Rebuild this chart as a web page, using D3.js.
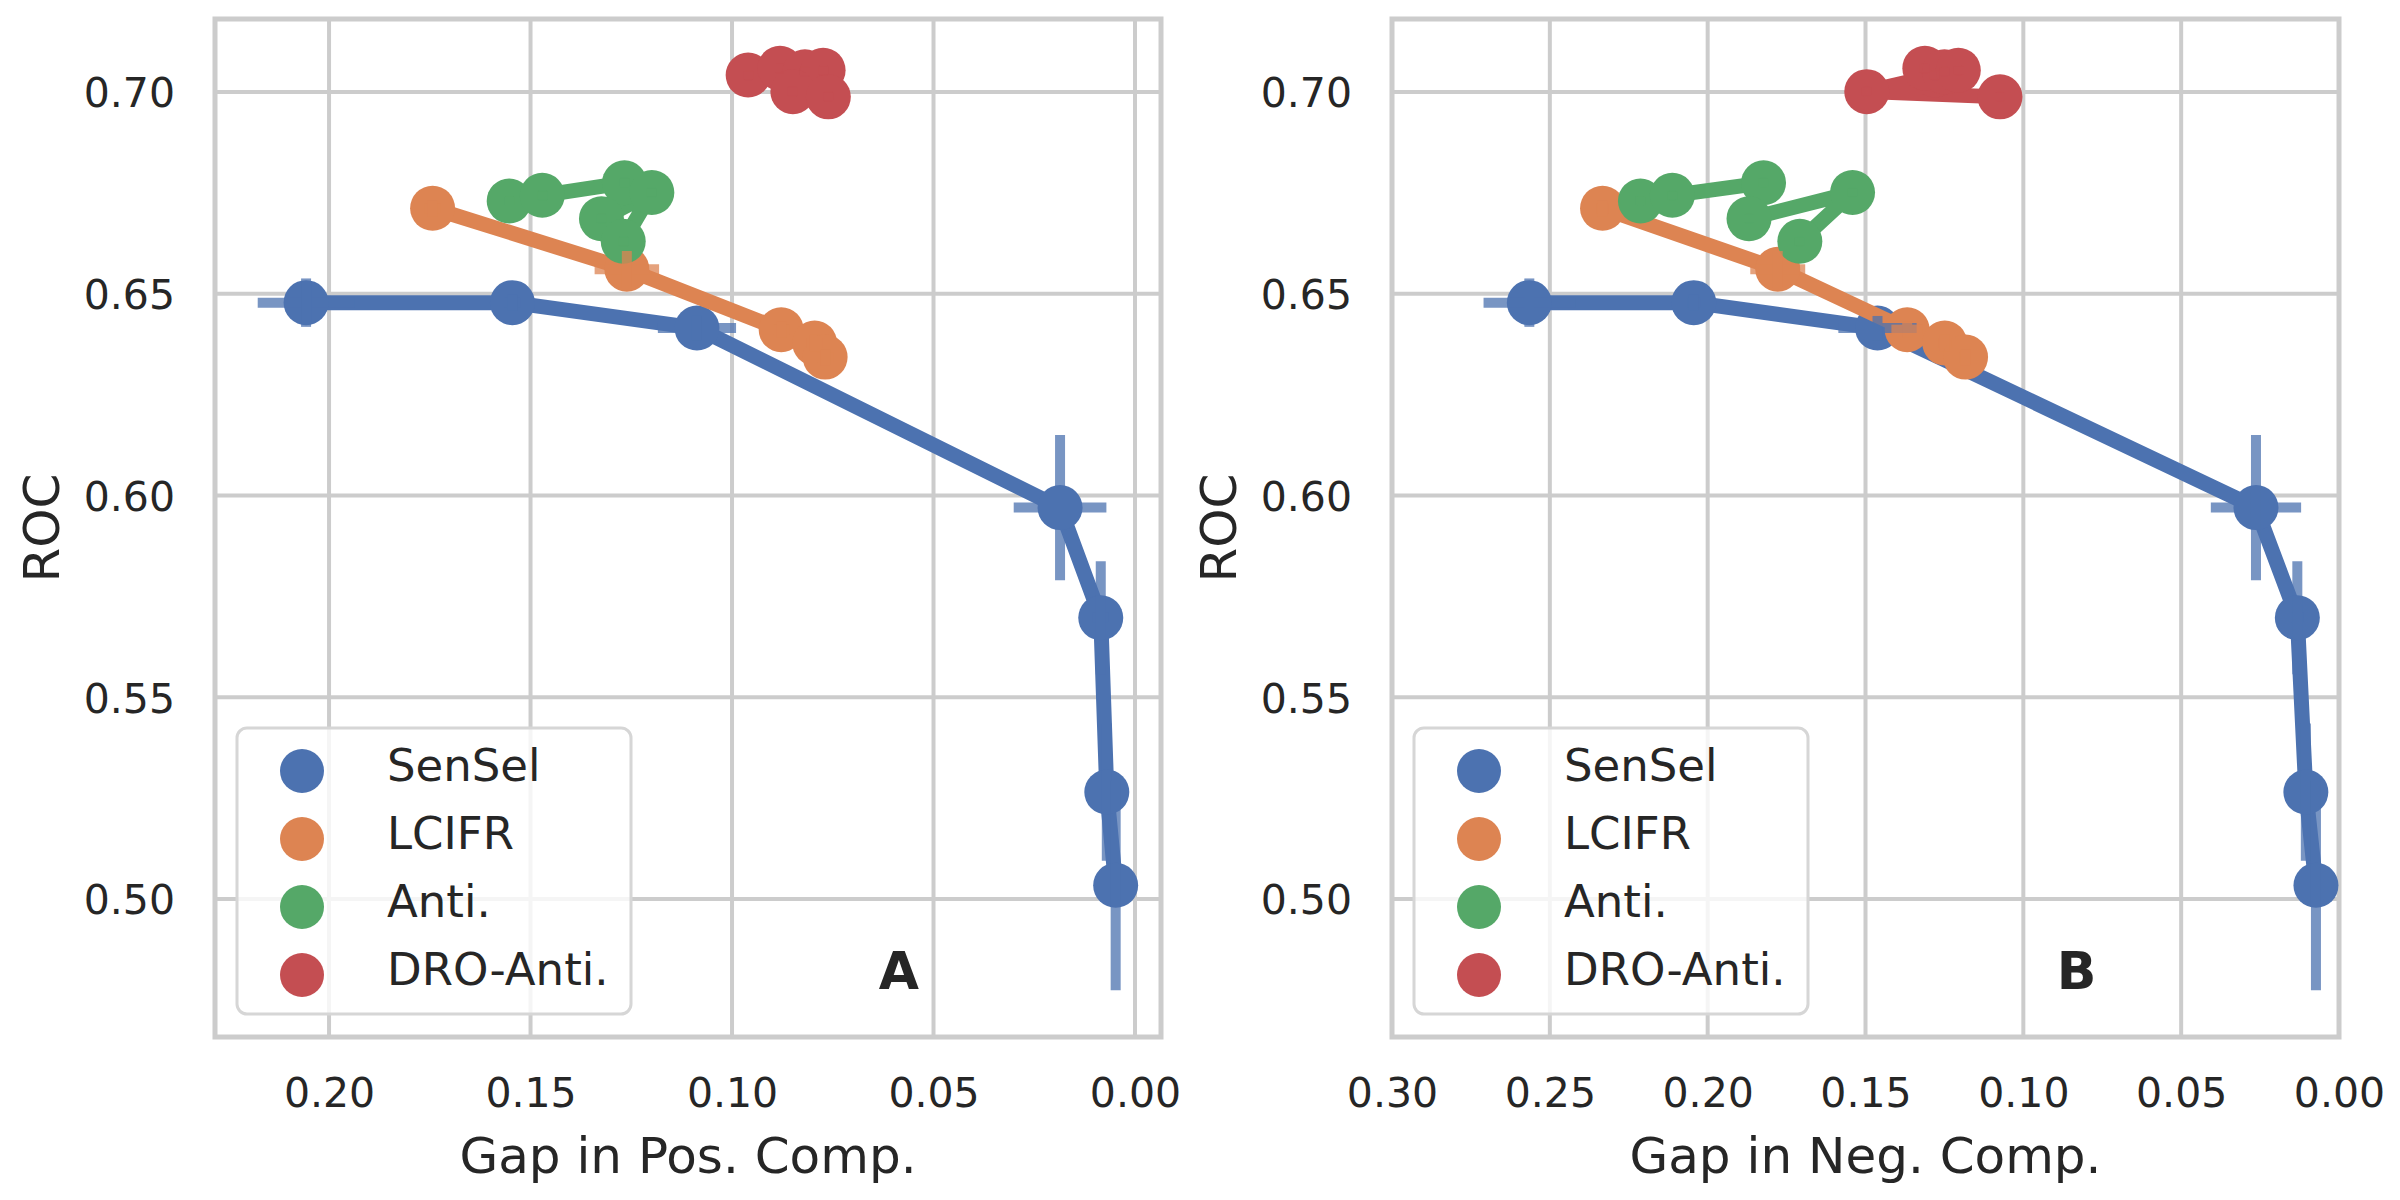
<!DOCTYPE html>
<html>
<head>
<meta charset="utf-8">
<script src="https://cdn.jsdelivr.net/npm/d3@7"></script>
<style>
  html, body { margin: 0; padding: 0; background: #ffffff; }
  svg { display: block; }
</style>
</head>
<body>
<svg id="chart" width="2400" height="1200"></svg>
<script>
// ---------------- data ----------------
const methods = ["SenSel", "LCIFR", "Anti.", "DRO-Anti."];
const colors = ["#4C72B0", "#DD8452", "#55A868", "#C44E52"];

const yTicks = [0.50, 0.55, 0.60, 0.65, 0.70];
const xTicksA = [0.20, 0.15, 0.10, 0.05, 0.00];
const xTicksB = [0.30, 0.25, 0.20, 0.15, 0.10, 0.05, 0.00];

// SenSel
const senselROC    = [0.6478, 0.6478, 0.6415, 0.5970, 0.5697, 0.5265, 0.5034];
const senselPos    = [0.2057, 0.1545, 0.1087, 0.0186, 0.0085, 0.0070, 0.0048];
const senselNeg    = [0.2565, 0.2044, 0.1462, 0.0263, 0.0132, 0.0105, 0.0073];
const senselROCErr = [0.0060, 0.0020, 0.0030, 0.0180, 0.0140, 0.0170, 0.0260];
const senselPosErr = [0.0120, 0.0020, 0.0097, 0.0115, 0.0020, 0.0010, 0.0010];
const senselNegErr = [0.0145, 0.0020, 0.0124, 0.0143, 0.0020, 0.0010, 0.0010];

// LCIFR
const lcifrROC    = [0.6712, 0.6561, 0.6411, 0.6378, 0.6343];
const lcifrPos    = [0.1743, 0.1261, 0.0878, 0.0795, 0.0769];
const lcifrNeg    = [0.2333, 0.1778, 0.1368, 0.1249, 0.1183];
const lcifrROCErr = [0.0020, 0.0045, 0.0020, 0.0020, 0.0020];
const lcifrPosErr = [0.0020, 0.0080, 0.0020, 0.0020, 0.0020];
const lcifrNegErr = [0.0020, 0.0087, 0.0050, 0.0020, 0.0020];

// Anti.
const antiROC    = [0.6730, 0.6744, 0.6775, 0.6686, 0.6751, 0.6630];
const antiPos    = [0.1553, 0.1471, 0.1267, 0.1324, 0.1199, 0.1270];
const antiNeg    = [0.2213, 0.2112, 0.1823, 0.1869, 0.1541, 0.1708];
const antiROCErr = [0.0010, 0.0010, 0.0010, 0.0010, 0.0010, 0.0010];
const antiPosErr = [0.0010, 0.0010, 0.0010, 0.0010, 0.0010, 0.0010];
const antiNegErr = [0.0010, 0.0010, 0.0010, 0.0010, 0.0010, 0.0010];

// DRO-Anti.
const droROC    = [0.7042, 0.7059, 0.7050, 0.7054, 0.7001, 0.6988];
const droPos    = [0.0960, 0.0881, 0.0819, 0.0774, 0.0849, 0.0761];
const droNeg    = [0.1280, 0.1312, 0.1250, 0.1206, 0.1496, 0.1074];
const droROCErr = [0.0010, 0.0010, 0.0010, 0.0010, 0.0010, 0.0010];
const droPosErr = [0.0010, 0.0010, 0.0010, 0.0010, 0.0010, 0.0010];
const droNegErr = [0.0010, 0.0010, 0.0010, 0.0010, 0.0010, 0.0010];

const rocAll    = [senselROC, lcifrROC, antiROC, droROC];
const rocErrAll = [senselROCErr, lcifrROCErr, antiROCErr, droROCErr];
const posAll    = [senselPos, lcifrPos, antiPos, droPos];
const posErrAll = [senselPosErr, lcifrPosErr, antiPosErr, droPosErr];
const negAll    = [senselNeg, lcifrNeg, antiNeg, droNeg];
const negErrAll = [senselNegErr, lcifrNegErr, antiNegErr, droNegErr];

// ---------------- layout ----------------
const svg = d3.select("#chart");
const FONT = "DejaVu Sans, sans-serif";
const TEXT = "#262626";
const GRID = "#cccccc";
const plotTop = 19, plotBottom = 1037;
const yDomain = [0.4658, 0.7181];

const panels = [
  { left: 215, right: 1161, xDomain: [0.2283, -0.00645], ticks: xTicksA,
    xs: posAll, xerrs: posErrAll, xlabel: "Gap in Pos. Comp.", letter: "A" },
  { left: 1392, right: 2339, xDomain: [0.30, 0.00], ticks: xTicksB,
    xs: negAll, xerrs: negErrAll, xlabel: "Gap in Neg. Comp.", letter: "B" }
];

panels.forEach((p, pi) => {
  const x = d3.scaleLinear().domain(p.xDomain).range([p.left, p.right]);
  const y = d3.scaleLinear().domain(yDomain).range([plotBottom, plotTop]);
  const g = svg.append("g");

  const clipId = "clip" + pi;
  svg.append("clipPath").attr("id", clipId)
    .append("rect").attr("x", p.left).attr("y", plotTop)
    .attr("width", p.right - p.left).attr("height", plotBottom - plotTop);

  // grid
  g.append("g").selectAll("line").data(p.ticks).join("line")
    .attr("x1", d => x(d)).attr("x2", d => x(d))
    .attr("y1", plotTop).attr("y2", plotBottom)
    .attr("stroke", GRID).attr("stroke-width", 4);
  g.append("g").selectAll("line").data(yTicks).join("line")
    .attr("x1", p.left).attr("x2", p.right)
    .attr("y1", d => y(d)).attr("y2", d => y(d))
    .attr("stroke", GRID).attr("stroke-width", 4);

  // axes via d3 axis (labels only)
  const xAxis = d3.axisBottom(x).tickValues(p.ticks).tickFormat(d3.format(".2f")).tickSize(0).tickPadding(0);
  const xg = g.append("g").attr("transform", `translate(0,${plotBottom})`).call(xAxis);
  xg.select(".domain").remove();
  xg.selectAll("text").attr("font-family", FONT).attr("font-size", 41)
    .attr("fill", TEXT).attr("dy", null).attr("y", 70);

  const yAxis = d3.axisLeft(y).tickValues(yTicks).tickFormat(d3.format(".2f")).tickSize(0).tickPadding(0);
  const yg = g.append("g").attr("transform", `translate(${p.left},0)`).call(yAxis);
  yg.select(".domain").remove();
  yg.selectAll("text").attr("font-family", FONT).attr("font-size", 41)
    .attr("fill", TEXT).attr("x", -40).attr("dy", "0.36em");

  // spines
  g.append("rect").attr("x", p.left).attr("y", plotTop)
    .attr("width", p.right - p.left).attr("height", plotBottom - plotTop)
    .attr("fill", "none").attr("stroke", GRID).attr("stroke-width", 5);

  // axis labels
  g.append("text").attr("x", (p.left + p.right) / 2).attr("y", 1173)
    .attr("text-anchor", "middle").attr("font-family", FONT)
    .attr("font-size", 50).attr("fill", TEXT).text(p.xlabel);
  g.append("text")
    .attr("transform", `translate(${p.left - 156},${(plotTop + plotBottom) / 2}) rotate(-90)`)
    .attr("text-anchor", "middle").attr("font-family", FONT)
    .attr("font-size", 50).attr("fill", TEXT).text("ROC");

  // data
  const dg = g.append("g").attr("clip-path", `url(#${clipId})`);
  const line = d3.line().x(d => x(d[0])).y(d => y(d[1]));
  methods.forEach((m, mi) => {
    const pts = p.xs[mi].map((v, i) => [v, rocAll[mi][i]]);
    const sg = dg.append("g");
    sg.append("path").datum(pts).attr("d", line)
      .attr("fill", "none").attr("stroke", colors[mi]).attr("stroke-width", 15)
      .attr("stroke-linejoin", "round").attr("stroke-linecap", "round");
    sg.selectAll("circle").data(pts).join("circle")
      .attr("cx", d => x(d[0])).attr("cy", d => y(d[1])).attr("r", 22.5)
      .attr("fill", colors[mi]);
  });
  // error bars on top
  methods.forEach((m, mi) => {
    const eg = dg.append("g").attr("opacity", 0.75);
    const xsv = p.xs[mi], xe = p.xerrs[mi], ys = rocAll[mi], ye = rocErrAll[mi];
    const idx = d3.range(xsv.length);
    eg.selectAll("line.h").data(idx).join("line").attr("class", "h")
      .attr("x1", i => x(xsv[i] - xe[i])).attr("x2", i => x(xsv[i] + xe[i]))
      .attr("y1", i => y(ys[i])).attr("y2", i => y(ys[i]))
      .attr("stroke", colors[mi]).attr("stroke-width", 10);
    eg.selectAll("line.v").data(idx).join("line").attr("class", "v")
      .attr("x1", i => x(xsv[i])).attr("x2", i => x(xsv[i]))
      .attr("y1", i => y(ys[i] - ye[i])).attr("y2", i => y(ys[i] + ye[i]))
      .attr("stroke", colors[mi]).attr("stroke-width", 10);
  });

  // legend
  const lx = p.left + 22, ly = 728;
  const lg = g.append("g");
  lg.append("rect").attr("x", lx).attr("y", ly).attr("width", 394).attr("height", 286)
    .attr("rx", 10).attr("ry", 10)
    .attr("fill", "#ffffff").attr("fill-opacity", 0.8)
    .attr("stroke", "#d6d6d6").attr("stroke-width", 3);
  methods.forEach((m, mi) => {
    lg.append("circle").attr("cx", lx + 65).attr("cy", 771 + mi * 68).attr("r", 22)
      .attr("fill", colors[mi]);
    lg.append("text").attr("x", lx + 150).attr("y", 781 + mi * 68)
      .attr("font-family", FONT).attr("font-size", 45).attr("fill", TEXT).text(m);
  });

  // panel letter
  g.append("text").attr("x", p.left + 0.723 * (p.right - p.left)).attr("y", 989)
    .attr("text-anchor", "middle").attr("font-family", FONT).attr("font-weight", "bold")
    .attr("font-size", 52).attr("fill", TEXT).text(p.letter);
});
</script>
</body>
</html>
